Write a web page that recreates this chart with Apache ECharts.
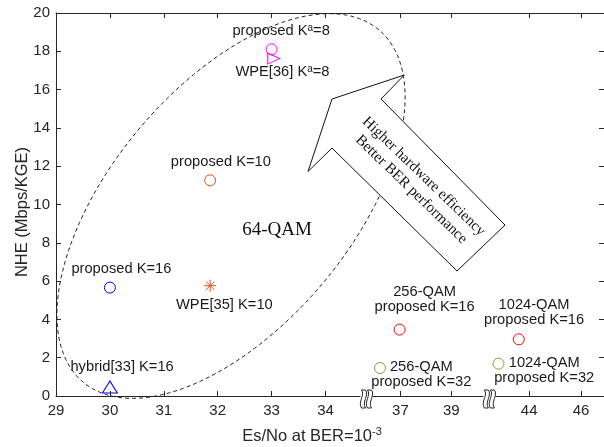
<!DOCTYPE html>
<html>
<head>
<meta charset="utf-8">
<script src="https://cdn.jsdelivr.net/npm/echarts@6/dist/echarts.min.js"></script>
<style>
html, body { margin: 0; padding: 0; background: #fff; }
#chart { width: 604px; height: 447px; }
</style>
</head>
<body>
<div id="chart"></div>
<script>
// ---- data -------------------------------------------------------------
// tick labels of the (broken) Es/No axis
const xTickLabels = [29, 30, 31, 32, 33, 34, 37, 39, 44, 46];
const yMin = 0, yMax = 20, yStep = 2;

// design points: Es/No at BER = 1e-3 (dB) and NHE (Mbps/KGE)
const designNames = [
  '{t|proposed K}{sup|a}{t|=8}',
  '{t|WPE[36] K}{sup|a}{t|=8}',
  'proposed K=10',
  'WPE[35] K=10',
  'proposed K=16',
  'hybrid[33] K=16',
  '256-QAM\nproposed K=16',
  '256-QAM\nproposed K=32',
  '1024-QAM\nproposed K=16',
  '1024-QAM\nproposed K=32'
];
const esNo = [33.0, 33.04, 31.86, 31.86, 30.0, 30.0, 36.97, 36.2, 43.6, 42.82];
const nhe  = [18.10, 17.62, 11.26, 5.76, 5.66, 0.47, 3.47, 1.46, 2.96, 1.69];

// ---- broken x-axis: three linear pieces mapped onto one value axis ----
function toAxis(x) {
  if (x <= 35) return x;                              // 29 .. 34
  if (x <= 41) return 35.389 + (x - 37) * 0.4722;     // 37 .. 39
  return 37.778 + (x - 44) * 0.4815;                  // 44 .. 46
}
const xTickPos = xTickLabels.map(toAxis);
function xLabelFor(v) {
  for (let i = 0; i < xTickPos.length; i++) {
    if (Math.abs(xTickPos[i] - v) < 1e-6) return String(xTickLabels[i]);
  }
  return '';
}
const breakAt = [34.76, 37.04];   // where the axis is cut (axis units)

// ---- styles -----------------------------------------------------------
const SANS = '"Liberation Sans", Arial, Helvetica, sans-serif';
const SERIF = '"Liberation Serif", "Times New Roman", serif';
const INK = '#262626';
const TXT = '#1a1a1a';

const STAR = 'path://M6,0L6,12M0,6L12,6M1.76,1.76L10.24,10.24M1.76,10.24L10.24,1.76';
const markers = [
  { symbol: 'circle',   size: 11,       rotate: 0,   color: '#ff00ff', offset: [9.5, -18] },
  { symbol: 'triangle', size: [11, 12], rotate: -90, color: '#ff00ff', offset: [8.7, 13.7] },
  { symbol: 'circle',   size: 11,       rotate: 0,   color: '#d95319', offset: [10.7, -18] },
  { symbol: STAR,       size: 12,       rotate: 0,   color: '#d95319', offset: [14.2, 19.7] },
  { symbol: 'circle',   size: 11,       rotate: 0,   color: '#0000ff', offset: [11.5, -18.3] },
  { symbol: 'triangle', size: [15, 12], rotate: 0,   color: '#0000ff', offset: [12.2, -19.7] },
  { symbol: 'circle',   size: 11,       rotate: 0,   color: '#ff0000', offset: [25, -30] },
  { symbol: 'circle',   size: 11,       rotate: 0,   color: '#77ac30', offset: [41.3, 6.3] },
  { symbol: 'circle',   size: 11,       rotate: 0,   color: '#ff0000', offset: [15.3, -26.5] },
  { symbol: 'circle',   size: 11,       rotate: 0,   color: '#77ac30', offset: [45.7, 7.2] }
];

const pointSeries = esNo.map((x, i) => ({
  type: 'scatter',
  name: designNames[i],
  symbol: markers[i].symbol,
  symbolSize: markers[i].size,
  symbolRotate: markers[i].rotate,
  itemStyle: { color: 'rgba(0,0,0,0)', borderColor: markers[i].color, borderWidth: 1, opacity: 1 },
  label: {
    show: true,
    position: 'inside',
    align: 'center',
    verticalAlign: 'middle',
    offset: markers[i].offset,
    formatter: () => designNames[i],
    color: TXT,
    fontFamily: SANS,
    fontSize: 14.7,
    lineHeight: 15,
    rich: {
      t: { color: TXT, fontFamily: SANS, fontSize: 14.7, lineHeight: 17 },
      sup: { color: TXT, fontFamily: SANS, fontSize: 10, verticalAlign: 'top' }
    }
  },
  emphasis: { disabled: true },
  z: 4,
  data: [[toAxis(x), nhe[i]]]
}));

// axis break glyphs drawn on the bottom axis
const breakSeries = {
  type: 'custom',
  coordinateSystem: 'cartesian2d',
  silent: true,
  clip: false,
  z: 6,
  data: breakAt.map(v => [v, yMin]),
  renderItem(params, api) {
    const p = api.coord([api.value(0), api.value(1)]);
    const band = (bx) =>
      `M${bx - 2},-6 C${bx + 2},-1 ${bx - 6},6 ${bx - 2},12 L${bx + 2},12 ` +
      `C${bx - 2},6 ${bx + 6},-1 ${bx + 2},-6 Z`;
    return {
      type: 'group',
      x: p[0],
      y: p[1],
      children: [
        { type: 'rect', shape: { x: -6, y: -1.5, width: 12, height: 3 }, style: { fill: '#fff' } },
        { type: 'path', shape: { pathData: band(-3) }, style: { fill: '#fff', stroke: INK, lineWidth: 1 } },
        { type: 'path', shape: { pathData: band(3) }, style: { fill: '#fff', stroke: INK, lineWidth: 1 } }
      ]
    };
  }
};

// ---- annotations: dashed 64-QAM ellipse and the block arrow ---------------
function ellipsePoints(cx, cy, a, b, deg, n) {
  const th = deg * Math.PI / 180, pts = [];
  for (let k = 0; k < n; k++) {
    const t = 2 * Math.PI * k / n;
    const u = a * Math.cos(t), v = b * Math.sin(t);
    pts.push([cx + u * Math.cos(th) - v * Math.sin(th), cy - (u * Math.sin(th) + v * Math.cos(th))]);
  }
  return pts;
}
const arrowOutline = [[404.3, 75], [332, 99], [308, 171.5], [332, 148], [457, 271], [505, 225], [381, 99]];

const chart = echarts.init(document.getElementById('chart'), null, { renderer: 'canvas' });

const axisLineStyle = { color: INK, width: 1 };
const xAxisCommon = {
  type: 'value',
  min: 29,
  max: 29 + 549 / 54,
  splitLine: { show: false },
  axisLine: { show: true, onZero: false, lineStyle: axisLineStyle },
  axisTick: { show: true, inside: true, length: 5, customValues: xTickPos, lineStyle: axisLineStyle }
};
const yAxisCommon = {
  type: 'value',
  min: yMin,
  max: yMax,
  interval: yStep,
  splitLine: { show: false },
  axisLine: { show: true, onZero: false, lineStyle: axisLineStyle },
  axisTick: { show: true, inside: true, length: 5, lineStyle: axisLineStyle }
};

chart.setOption({
  animation: false,
  backgroundColor: '#fff',
  grid: { left: 56, right: -1, top: 13, bottom: 51, containLabel: false },
  xAxis: [
    Object.assign({}, xAxisCommon, {
      position: 'bottom',
      axisLabel: {
        customValues: xTickPos,
        formatter: xLabelFor,
        margin: 7,
        color: INK,
        fontFamily: SANS,
        fontSize: 15
      }
    }),
    Object.assign({}, xAxisCommon, { position: 'top', axisLabel: { show: false } })
  ],
  yAxis: [
    Object.assign({}, yAxisCommon, {
      position: 'left',
      axisLabel: { margin: 6, color: INK, fontFamily: SANS, fontSize: 15 }
    }),
    Object.assign({}, yAxisCommon, { position: 'right', axisLabel: { show: false } })
  ],
  series: pointSeries.concat([breakSeries]),
  graphic: [
    {
      type: 'polygon',
      silent: true,
      z: 1,
      shape: { points: ellipsePoints(231, 206, 230, 120, 50, 240) },
      style: { fill: 'none', stroke: '#222', lineWidth: 1, lineDash: [4, 3] }
    },
    {
      type: 'polygon',
      silent: true,
      z: 2,
      shape: { points: arrowOutline },
      style: { fill: '#fff', stroke: '#111', lineWidth: 1 }
    },
    {
      type: 'text',
      silent: true,
      z: 3,
      x: 417.5,
      y: 183,
      rotation: -44 * Math.PI / 180,
      style: {
        text: 'Higher hardware efficiency\nBetter BER performance',
        font: '15px ' + SERIF,
        fill: '#111',
        align: 'center', verticalAlign: 'middle',
        textAlign: 'center', textVerticalAlign: 'middle',
        lineHeight: 18
      }
    },
    {
      type: 'text',
      silent: true,
      z: 3,
      x: 277,
      y: 230,
      style: {
        text: '64-QAM',
        font: '19px ' + SERIF,
        fill: '#111',
        align: 'center', verticalAlign: 'middle',
        textAlign: 'center', textVerticalAlign: 'middle'
      }
    },
    {
      type: 'text',
      silent: true,
      x: 312,
      y: 436,
      style: {
        text: '{n|Es/No at BER=10}{s|-3}',
        align: 'center', verticalAlign: 'middle',
        textAlign: 'center', textVerticalAlign: 'middle',
        rich: {
          n: { fontFamily: SANS, fontSize: 16.5, fill: INK, lineHeight: 20 },
          s: { fontFamily: SANS, fontSize: 11, fill: INK, verticalAlign: 'top' }
        }
      }
    },
    {
      type: 'text',
      silent: true,
      x: 22,
      y: 212,
      rotation: Math.PI / 2,
      style: {
        text: 'NHE (Mbps/KGE)',
        font: '16.5px ' + SANS,
        fill: INK,
        align: 'center', verticalAlign: 'middle',
        textAlign: 'center', textVerticalAlign: 'middle'
      }
    }
  ]
});
</script>
</body>
</html>
